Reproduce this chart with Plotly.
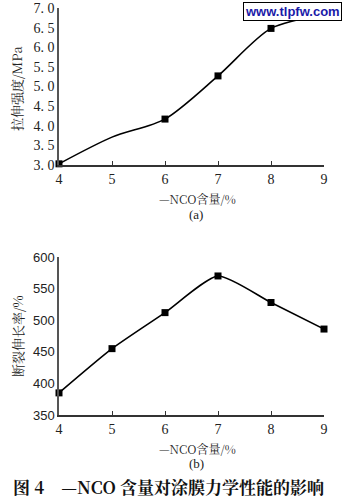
import plotly.graph_objects as go

# Data
nco = [4, 5, 6, 7, 8, 9]
tensile = [3.03, 3.71, 4.17, 5.27, 6.48, 6.83]
tensile_marker_x = [4, 6, 7, 8, 9]
tensile_marker_y = [3.03, 4.17, 5.27, 6.48, 6.83]
elong = [385, 455, 512, 570, 528, 486]
a_yticks = [3.0, 3.5, 4.0, 4.5, 5.0, 5.5, 6.0, 6.5, 7.0]
a_yticklabels = ["3. 0", "3. 5", "4. 0", "4. 5", "5. 0", "5. 5", "6. 0", "6. 5", "7. 0"]
b_yticks = [350, 400, 450, 500, 550, 600]

W, H = 342, 502
ML, MR, MT, MB = 59, 18, 8, 87
PH = H - MT - MB

def py(pix):
    return (H - MB - pix) / PH

def px(pix):
    return (pix - ML) / (W - ML - MR)

fig = go.Figure()
fig.add_trace(go.Scatter(x=nco, y=tensile, mode="lines", line=dict(color="black", width=1.6, shape="spline", smoothing=0.8),
                         xaxis="x", yaxis="y", showlegend=False, cliponaxis=False))
fig.add_trace(go.Scatter(x=tensile_marker_x, y=tensile_marker_y, mode="markers",
                         marker=dict(symbol="square", size=7, color="black"),
                         xaxis="x", yaxis="y", showlegend=False, cliponaxis=False))
fig.add_trace(go.Scatter(x=nco, y=elong, mode="lines+markers", line=dict(color="black", width=1.6, shape="spline", smoothing=0.6),
                         marker=dict(symbol="square", size=7, color="black"),
                         xaxis="x2", yaxis="y2", showlegend=False, cliponaxis=False))

serif = "Liberation Serif, DejaVu Serif, serif"
sans = "Liberation Sans, Arial, sans-serif"
cjk = "Noto Serif CJK SC, Noto Sans CJK SC, sans-serif"

common_x = dict(range=[4, 9], tickvals=nco, ticks="inside", ticklen=4, tickcolor="#333",
                showline=True, linecolor="#333", linewidth=1.5, showgrid=False, zeroline=False,
                tickfont=dict(family=serif, size=14, color="#222"))

fig.update_layout(
    width=W, height=H, margin=dict(l=ML, r=MR, t=MT, b=MB, autoexpand=False),
    paper_bgcolor="white", plot_bgcolor="white",
    xaxis=dict(domain=[0, 1], anchor="y", **common_x),
    yaxis=dict(domain=[py(165), 1.0], anchor="x", range=[3.0, 7.0], tickvals=a_yticks, ticktext=a_yticklabels,
               ticks="", showline=True, linecolor="#555", linewidth=1.5, showgrid=False, zeroline=False,
               tickfont=dict(family=serif, size=14, color="#222")),
    xaxis2=dict(domain=[0, 1], anchor="y2", **common_x),
    yaxis2=dict(domain=[0, py(257)], anchor="x2", range=[350, 600], tickvals=b_yticks,
                ticks="", showline=True, linecolor="#555", linewidth=1.5, showgrid=False, zeroline=False,
                tickfont=dict(family=sans, size=13, color="#222")),
)

def A(text, x, y, font, angle=0, **kw):
    d = dict(text=text, x=px(x), y=py(y), xref="paper", yref="paper", textangle=angle,
             xanchor="center", yanchor="middle", showarrow=False, font=font)
    d.update(kw)
    return d

ann = [
    A("拉伸强度/MPa", 17, 88, dict(family=cjk, size=13, color="#222"), -90),
    A("—NCO含量/%", 197, 198, dict(family=cjk, size=12, color="#222")),
    A("(a)", 196, 215, dict(family=serif, size=13, color="#222")),
    A("断裂伸长率/%", 17, 336, dict(family=cjk, size=13, color="#222"), -90),
    A("—NCO含量/%", 197, 448, dict(family=cjk, size=12, color="#222")),
    A("(b)", 196, 463, dict(family=serif, size=13, color="#222")),
    A("<b>图 4　—NCO 含量对涂膜力学性能的影响</b>", 168, 487, dict(family=cjk, size=17, color="#111")),
    A("<b>www.tlpfw.com</b>", 292, 12, dict(family=sans, size=13, color="#1a1aa8"),
      bgcolor="white", bordercolor="black", borderwidth=1, borderpad=1),
]
fig.update_layout(annotations=ann)

fig.write_html("out.html")
